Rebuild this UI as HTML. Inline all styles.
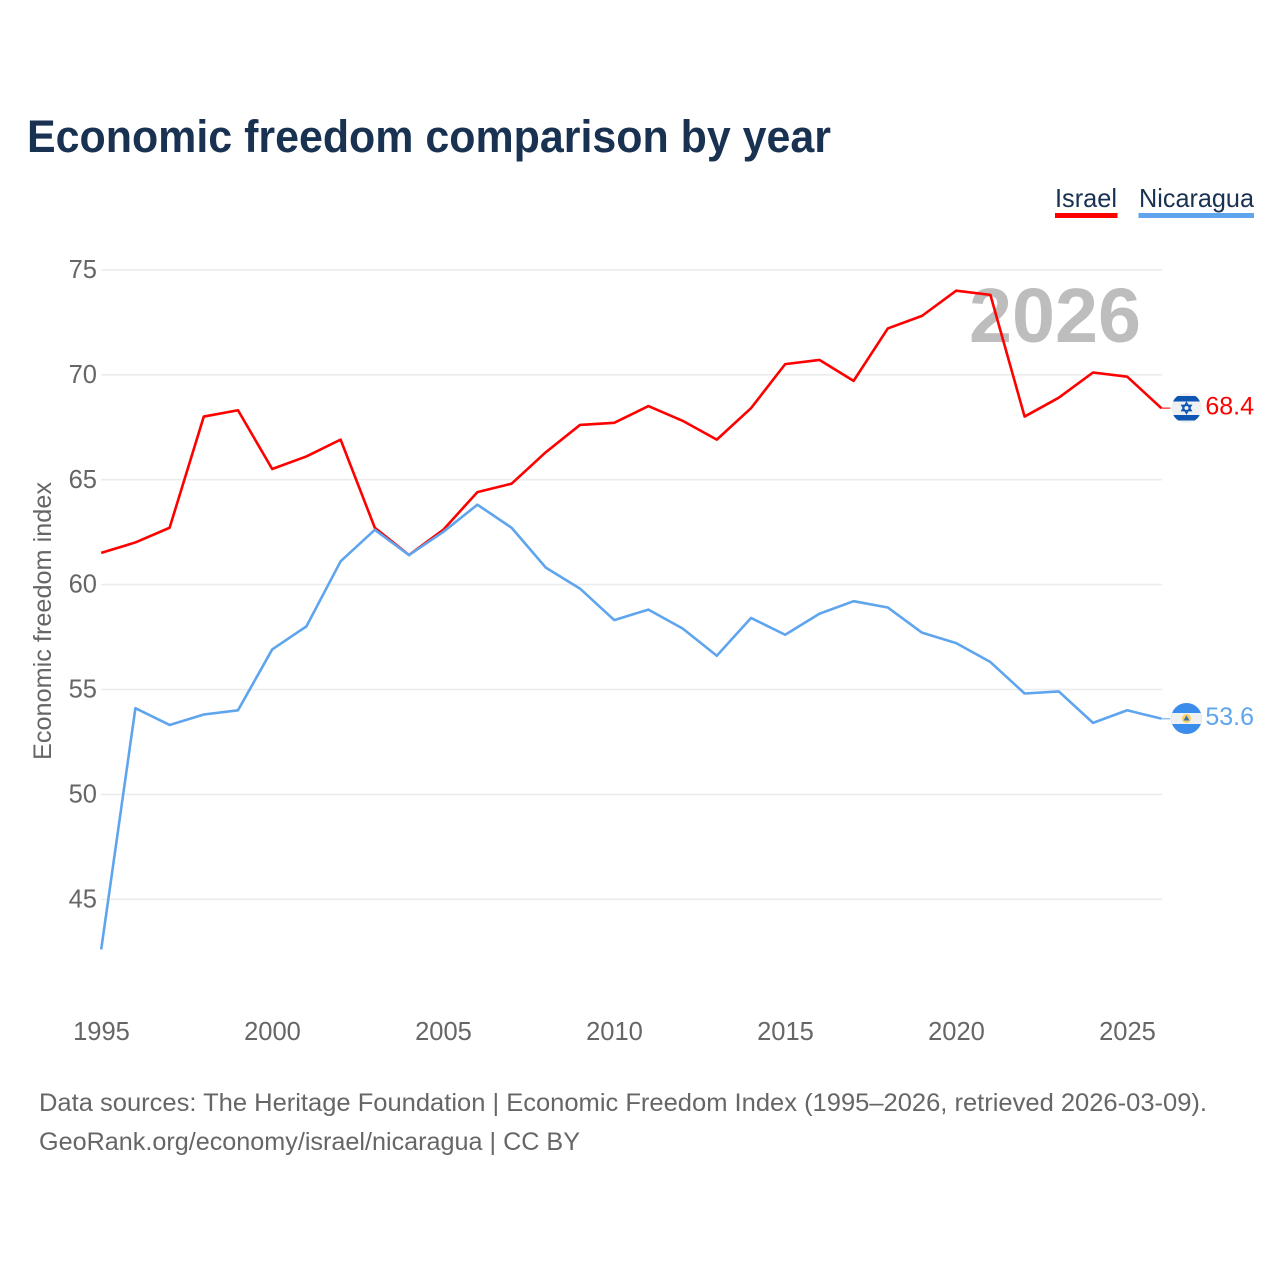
<!DOCTYPE html>
<html lang="en">
<head>
<meta charset="utf-8">
<title>Economic freedom comparison by year</title>
<style>
html,body{margin:0;padding:0;background:#fff;width:1280px;height:1280px;overflow:hidden}
svg{display:block;font-family:"Liberation Sans",sans-serif}
</style>
</head>
<body>
<svg id="chart" xmlns="http://www.w3.org/2000/svg" width="1280" height="1280" viewBox="0 0 1280 1280">
  <rect x="0" y="0" width="1280" height="1280" fill="#ffffff"/>
  <text x="27" y="152" font-size="45" font-weight="700" fill="#1a3252" textLength="804" lengthAdjust="spacingAndGlyphs">Economic freedom comparison by year</text>
  <g id="legend">
    <g>
      <text x="1055" y="207" font-size="26" fill="#1a3252" textLength="62" lengthAdjust="spacingAndGlyphs">Israel</text>
      <rect x="1055" y="213" width="62.5" height="5" fill="#ff0000"/>
    </g>
    <g>
      <text x="1139" y="207" font-size="26" fill="#1a3252" textLength="115" lengthAdjust="spacingAndGlyphs">Nicaragua</text>
      <rect x="1138.5" y="213" width="115.5" height="5" fill="#5fa5ee"/>
    </g>
  </g>
  <g id="grid"></g>
  <g id="yticks"></g>
  <g id="xticks"></g>
  <text transform="translate(51 621) rotate(-90)" text-anchor="middle" font-size="25" fill="#666666" textLength="278" lengthAdjust="spacingAndGlyphs">Economic freedom index</text>
  <text id="year-watermark" x="969" y="342" font-size="77" font-weight="700" fill="#bdbdbd" textLength="172" lengthAdjust="spacingAndGlyphs">2026</text>
  <g id="series"></g>
  <g id="end-labels"></g>
  <defs>
    <clipPath id="clip-il"><circle id="clip-il-c" cx="1186.5" cy="408" r="15"/></clipPath>
    <clipPath id="clip-ni"><circle id="clip-ni-c" cx="1186.5" cy="718.5" r="15.5"/></clipPath>
  </defs>
  <g clip-path="url(#clip-il)">
    <rect x="1171" y="393" width="31" height="31" fill="#eef0f2"/>
    <rect x="1171" y="396" width="31" height="5.5" fill="#0f56b3"/>
    <rect x="1171" y="415" width="31" height="5.5" fill="#0f56b3"/>
    <path d="M1186.5 402.6l4.6 8h-9.2zM1186.5 413.4l-4.6-8h9.2z" fill="none" stroke="#0f56b3" stroke-width="1.5"/>
  </g>
  <g clip-path="url(#clip-ni)">
    <rect x="1170" y="703" width="33" height="31" fill="#3b8ded"/>
    <rect x="1170" y="713" width="33" height="11" fill="#eff0f0"/>
    <circle cx="1186.5" cy="718.5" r="4.5" fill="#f7cf5c"/>
    <path d="M1186.5 715.5l3 5h-6z" fill="#3d6fb0"/>
  </g>
  <text x="39" y="1111" font-size="25" fill="#666666" textLength="1168" lengthAdjust="spacingAndGlyphs">Data sources: The Heritage Foundation | Economic Freedom Index (1995–2026, retrieved 2026-03-09).</text>
  <text x="39" y="1150" font-size="25" fill="#666666" textLength="541" lengthAdjust="spacingAndGlyphs">GeoRank.org/economy/israel/nicaragua | CC BY</text>
</svg>
<script>
const years = [1995,1996,1997,1998,1999,2000,2001,2002,2003,2004,2005,2006,2007,2008,2009,2010,2011,2012,2013,2014,2015,2016,2017,2018,2019,2020,2021,2022,2023,2024,2025,2026];
const israelValues = [61.5,62.0,62.7,68.0,68.3,65.5,66.1,66.9,62.7,61.4,62.6,64.4,64.8,66.3,67.6,67.7,68.5,67.8,66.9,68.4,70.5,70.7,69.7,72.2,72.8,74.0,73.8,68.0,68.9,70.1,69.9,68.4];
const nicaraguaValues = [42.6,54.1,53.3,53.8,54.0,56.9,58.0,61.1,62.6,61.4,62.5,63.8,62.7,60.8,59.8,58.3,58.8,57.9,56.6,58.4,57.6,58.6,59.2,58.9,57.7,57.2,56.3,54.8,54.9,53.4,54.0,53.6];
const yTicks = [45,50,55,60,65,70,75];
const xTicks = [1995,2000,2005,2010,2015,2020,2025];

const NS = 'http://www.w3.org/2000/svg';
function xScale(year){ return 101.2 + (year - 1995) * 34.2; }
function yScale(v){ return 269.7 + (75 - v) * 20.98; }
function make(tag, attrs, parent, text){
  const el = document.createElementNS(NS, tag);
  for (const k in attrs) el.setAttribute(k, attrs[k]);
  if (text !== undefined) el.textContent = text;
  parent.appendChild(el);
  return el;
}
const grid = document.getElementById('grid');
const yG = document.getElementById('yticks');
const xG = document.getElementById('xticks');
const seriesG = document.getElementById('series');
const endG = document.getElementById('end-labels');

yTicks.forEach(function(t){
  const line = make('line', {x1:101, x2:1162, y1:yScale(t)+0.2, y2:yScale(t)+0.2, stroke:'#ececec', 'stroke-width':1.6}, grid);
  
  
  const label = make('text', {x:97, y:yScale(t)+8.3, 'text-anchor':'end', 'font-size':25.5, fill:'#666666'}, yG, String(t));
  
  
});
xTicks.forEach(function(t){
  const label = make('text', {x:xScale(t)+0.3, y:1040, 'text-anchor':'middle', 'font-size':25.5, fill:'#666666'}, xG, String(t));
  
  
});
function drawSeries(name, values, color){
  const pts = values.map(function(v,i){ return xScale(years[i]).toFixed(2) + ',' + yScale(v).toFixed(2); }).join(' ');
  const line = make('polyline', {points:pts, fill:'none', stroke:color, 'stroke-width':2.6, 'stroke-linejoin':'round'}, seriesG);
  
  
  const last = values[values.length-1];
  const lastX = xScale(years[years.length-1]);
  const conn = make('line', {x1:lastX, x2:lastX+9, y1:yScale(last), y2:yScale(last), stroke:color, 'stroke-width':1.6, opacity:0.65}, endG);
  
  
  const val = make('text', {x:1254, y:yScale(last)+6.3, 'text-anchor':'end', 'font-size':25, fill:color}, endG, last.toFixed(1));
  
  
}
drawSeries('israel', israelValues, '#ff0000');
drawSeries('nicaragua', nicaraguaValues, '#5fa5ee');
</script>
</body>
</html>
